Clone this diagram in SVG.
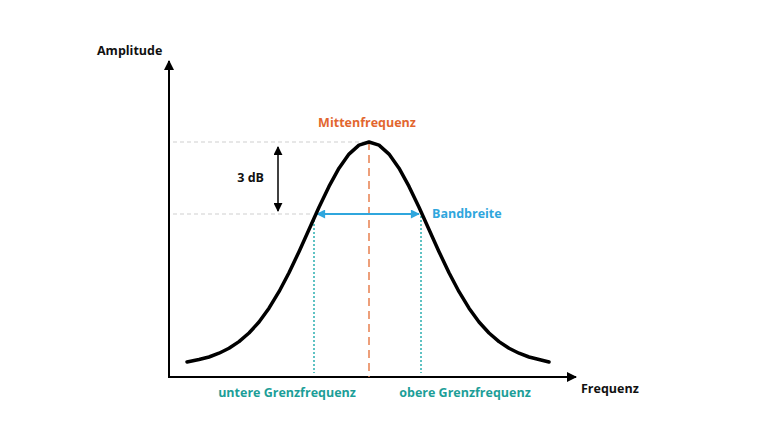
<svg xmlns="http://www.w3.org/2000/svg" width="768" height="432" viewBox="0 0 768 432">
<style>
text{font-family:"Open Sans","Liberation Sans",sans-serif;font-weight:bold;font-size:12.5px}
.blk{fill:#111}
.org{fill:#E2662E}
.blu{fill:#2FA6DD}
.tea{fill:#1C9E98}
.axis{stroke:#000;stroke-width:2;fill:none}
.grid{stroke:#cfcfcf;stroke-width:1;stroke-dasharray:4 3;fill:none}
</style>
<defs>
<marker id="ab" viewBox="0 0 10 10" refX="9" refY="5" markerWidth="10" markerHeight="10" markerUnits="userSpaceOnUse" orient="auto-start-reverse"><path d="M0,0 L10,5 L0,10 Z" fill="#000"/></marker>
<marker id="ab2" viewBox="0 0 10 10" refX="9" refY="5" markerWidth="9" markerHeight="9" markerUnits="userSpaceOnUse" orient="auto-start-reverse"><path d="M0,0 L10,5 L0,10 Z" fill="#000"/></marker>
<marker id="abb" viewBox="0 0 10 10" refX="9" refY="5" markerWidth="10" markerHeight="9" markerUnits="userSpaceOnUse" orient="auto-start-reverse"><path d="M0,0 L10,5 L0,10 Z" fill="#2FA6DD"/></marker>
</defs>
<g id="connectors">
<line class="grid" x1="173" y1="142" x2="366" y2="142"/>
<line class="grid" x1="173" y1="214" x2="313" y2="214"/>
<line x1="169" y1="377" x2="169" y2="61" class="axis" marker-end="url(#ab)"/>
<line x1="168" y1="377" x2="576" y2="377" class="axis" marker-end="url(#ab)"/>
<line x1="278" y1="147" x2="278" y2="211" stroke="#000" stroke-width="1.5" marker-start="url(#ab2)" marker-end="url(#ab2)"/>
<line x1="369" y1="142" x2="369" y2="377" stroke="#E8804F" stroke-width="1.5" stroke-dasharray="8 5"/>
<line x1="314" y1="216" x2="314" y2="373" stroke="#2AAFB0" stroke-width="1.5" stroke-dasharray="2 2"/>
<line x1="421" y1="216" x2="421" y2="373" stroke="#2AAFB0" stroke-width="1.5" stroke-dasharray="2 2"/>
<line x1="317" y1="214" x2="419" y2="214" stroke="#2FA6DD" stroke-width="1.8" marker-start="url(#abb)" marker-end="url(#abb)"/>
</g>
<g id="curve">
<polyline fill="none" stroke="#000" stroke-width="3.5" stroke-linejoin="round" stroke-linecap="round" points="187,362 199,359.5 209,357 219,353.2 229,348.3 239,341.6 249,333 259,322 269,308.2 279,291.7 289,272.7 299,251.7 309,229.5 319,207.3 329,186.4 339,168.2 349,154.1 359,145.1 369,142 379,145.1 389,154.1 399,168.2 409,186.4 419,207.3 429,229.5 439,251.7 449,272.7 459,291.7 469,308.2 479,322 489,333 499,341.6 509,348.3 519,353.2 529,357 539,359.5 549,362"/>
</g>
<g id="labels">
<text class="blk" x="97" y="55">Amplitude</text>
<text class="blk" x="581" y="393">Frequenz</text>
<text class="blk" x="264" y="182" text-anchor="end">3 dB</text>
<text class="org" x="367" y="127" text-anchor="middle">Mittenfrequenz</text>
<text class="blu" x="432" y="218">Bandbreite</text>
<text class="tea" x="287" y="397" text-anchor="middle">untere Grenzfrequenz</text>
<text class="tea" x="465" y="397" text-anchor="middle">obere Grenzfrequenz</text>
</g>
</svg>
